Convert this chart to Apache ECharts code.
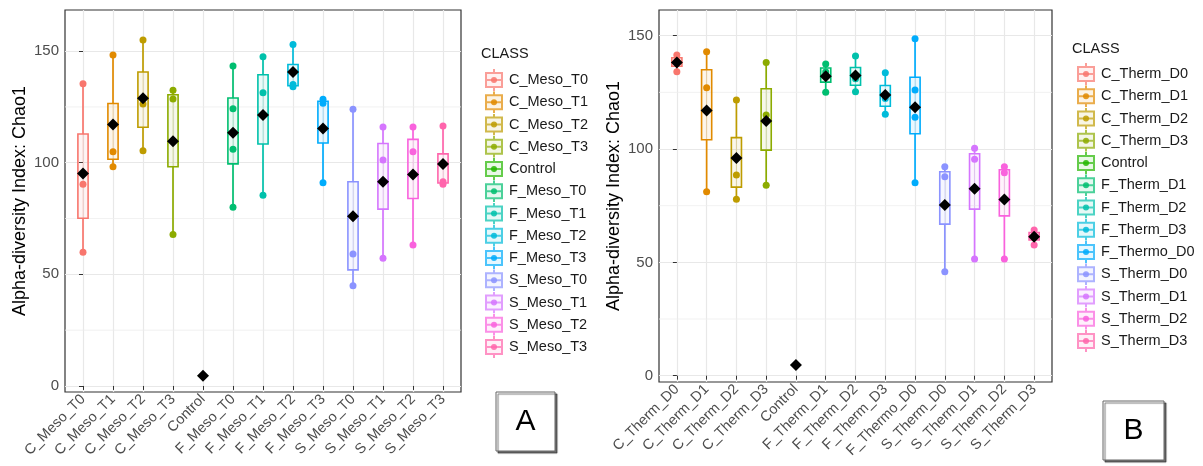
<!DOCTYPE html>
<html><head><meta charset="utf-8">
<script src="https://cdn.jsdelivr.net/npm/echarts@6/dist/echarts.min.js"></script>
<style>html,body{margin:0;padding:0;background:#fff}#c{width:1203px;height:466px}</style>
</head><body><div id="c"></div>
<script>
// ---------- data ----------
const catsA = ['C_Meso_T0','C_Meso_T1','C_Meso_T2','C_Meso_T3','Control','F_Meso_T0','F_Meso_T1','F_Meso_T2','F_Meso_T3','S_Meso_T0','S_Meso_T1','S_Meso_T2','S_Meso_T3'];
const pointsA = [
  [135.4, 90.3, 59.9],
  [148.2, 104.9, 98.2],
  [155.0, 126.3, 105.4],
  [132.4, 128.5, 67.9],
  [4.6],
  [143.3, 124.2, 106.0, 80.0],
  [147.5, 131.3, 85.4],
  [153.0, 135.0, 134.0],
  [128.4, 126.6, 91.0],
  [123.9, 59.1, 44.9],
  [116.0, 101.2, 57.2],
  [116.0, 104.9, 63.1],
  [116.4, 91.5, 90.3]
];
const catsB = ['C_Therm_D0','C_Therm_D1','C_Therm_D2','C_Therm_D3','Control','F_Therm_D1','F_Therm_D2','F_Therm_D3','F_Thermo_D0','S_Therm_D0','S_Therm_D1','S_Therm_D2','S_Therm_D3'];
const pointsB = [
  [141.5, 139.0, 134.1],
  [142.9, 127.0, 81.2],
  [121.6, 88.5, 77.9],
  [138.2, 115.0, 84.0],
  [4.7],
  [137.5, 134.0, 125.0],
  [141.0, 131.0, 125.3],
  [133.7, 122.3, 115.4],
  [148.7, 126.0, 114.0, 85.1],
  [92.2, 87.8, 45.9],
  [100.3, 95.5, 51.5],
  [92.2, 89.5, 51.5],
  [64.3, 62.0, 57.7]
];
const yTicks = [0, 50, 100, 150];
const yMinorTicks = [25, 75, 125];
const classColors = ['#F8766D','#E18A00','#BE9C00','#8CAB00','#24B700','#00BE70','#00C1AB','#00BBDA','#00ACFC','#8B93FF','#D575FE','#F962DD','#FF65AC'];

// ---------- helpers ----------
function quantile(s, p) { const h = (s.length - 1) * p, lo = Math.floor(h), hi = Math.ceil(h); return s[lo] + (h - lo) * (s[hi] - s[lo]); }
function boxStats(vals) {
  const s = vals.slice().sort((a, b) => a - b);
  const q1 = quantile(s, 0.25), med = quantile(s, 0.5), q3 = quantile(s, 0.75), iqr = q3 - q1;
  const inside = s.filter(v => v >= q1 - 1.5 * iqr && v <= q3 + 1.5 * iqr);
  return [inside[0], q1, med, q3, inside[inside.length - 1]];
}
const mean = a => a.reduce((x, y) => x + y, 0) / a.length;
function rgba(hex, a) { const n = parseInt(hex.slice(1), 16); return `rgba(${(n >> 16) & 255},${(n >> 8) & 255},${n & 255},${a})`; }
function keyIcon(c) {
  const svg = `<svg xmlns="http://www.w3.org/2000/svg" width="20" height="22" viewBox="0 0 20 22"><g opacity="0.7" stroke="${c}" stroke-width="2" fill="none"><line x1="10" y1="0" x2="10" y2="4"/><line x1="10" y1="18" x2="10" y2="22"/><rect x="2" y="4" width="16" height="14" fill="${c}" fill-opacity="0.15"/><line x1="2" y1="11" x2="18" y2="11"/></g><circle cx="10" cy="11" r="3" fill="${c}" opacity="0.85"/></svg>`;
  return 'image://data:image/svg+xml;charset=utf-8,' + encodeURIComponent(svg);
}
function renderBox(params, api) {
  const x = api.value(0);
  const lo = api.coord([x, api.value(1)]);
  const q1 = api.coord([x, api.value(2)]);
  const q3 = api.coord([x, api.value(4)]);
  const hi = api.coord([x, api.value(5)]);
  const hw = api.size([0.34, 0])[0] / 2;
  const color = api.visual('color');
  const cx = lo[0];
  const ls = { stroke: color, lineWidth: 1.7 };
  return { type: 'group', children: [
    { type: 'rect', shape: { x: cx - hw, y: q3[1], width: 2 * hw, height: q1[1] - q3[1] }, style: { fill: rgba(color, 0.08), stroke: color, lineWidth: 1.6 } },
    { type: 'line', shape: { x1: cx, y1: q3[1], x2: cx, y2: q1[1] }, style: { stroke: rgba(color, 0.25), lineWidth: 1 } },
    { type: 'line', shape: { x1: cx, y1: hi[1], x2: cx, y2: q3[1] }, style: ls },
    { type: 'line', shape: { x1: cx, y1: q1[1], x2: cx, y2: lo[1] }, style: ls },
    { type: 'line', shape: { x1: cx - 3, y1: hi[1], x2: cx + 3, y2: hi[1] }, style: ls },
    { type: 'line', shape: { x1: cx - 3, y1: lo[1], x2: cx + 3, y2: lo[1] }, style: ls }
  ]};
}
function renderMinor(params, api) {
  const cs = params.coordSys;
  const p = api.coord([0, api.value(0)]);
  return { type: 'line', shape: { x1: cs.x, y1: p[1], x2: cs.x + cs.width, y2: p[1] }, style: { stroke: '#eeeeee', lineWidth: 0.8 } };
}

const FONT = '"Liberation Sans", Arial, sans-serif';
const grids = [
  { left: 65, top: 10, width: 396, height: 382, show: true, borderColor: '#333', borderWidth: 1.2, backgroundColor: '#fff' },
  { left: 659, top: 10, width: 393, height: 372, show: true, borderColor: '#333', borderWidth: 1.2, backgroundColor: '#fff' }
];
const yRanges = [[-2.7, 168.4], [-2.78, 161.34]];
const xAxes = [], yAxes = [], series = [], legends = [];
[[catsA, pointsA], [catsB, pointsB]].forEach(([cats, pts], g) => {
  const idx = cats.map((c, i) => i);
  xAxes.push({
    gridIndex: g, type: 'value', min: -0.6, max: 12.6,
    axisLine: { show: false },
    axisTick: { show: true, customValues: idx, length: 4, lineStyle: { color: '#333', width: 1 } },
    axisLabel: { customValues: idx, formatter: v => cats[Math.round(v)], rotate: 45, fontSize: 14.5, color: '#4d4d4d', margin: 5, fontFamily: FONT },
    splitLine: { show: true, lineStyle: { color: '#e8e8e8', width: 1.2 } }
  });
  yAxes.push({
    gridIndex: g, type: 'value', min: yRanges[g][0], max: yRanges[g][1],
    axisLine: { show: false },
    axisTick: { show: true, customValues: yTicks, length: 4, lineStyle: { color: '#333', width: 1 } },
    axisLabel: { customValues: yTicks, fontSize: 15, color: '#4d4d4d', margin: 6, fontFamily: FONT },
    splitLine: { show: true, lineStyle: { color: '#e8e8e8', width: 1.2 } },
    name: 'Alpha-diversity Index: Chao1', nameLocation: 'middle', nameGap: 36,
    nameTextStyle: { fontSize: 18, color: '#000', fontFamily: FONT }
  });
  series.push({
    type: 'custom', name: 'minor' + g, xAxisIndex: g, yAxisIndex: g, z: 1, silent: true,
    data: yMinorTicks.map(v => [v]), encode: { y: 0 }, renderItem: renderMinor
  });
  cats.forEach((c, i) => {
    series.push({
      type: 'custom', name: c, xAxisIndex: g, yAxisIndex: g, z: 3, silent: true,
      itemStyle: { color: classColors[i] },
      data: [[i].concat(boxStats(pts[i]))],
      encode: { x: 0, y: [1, 2, 3, 4, 5] },
      renderItem: renderBox
    });
  });
  const pdata = [];
  pts.forEach((arr, i) => arr.forEach(v => pdata.push({ value: [i, v], itemStyle: { color: classColors[i], opacity: 1 } })));
  series.push({ type: 'scatter', name: 'pts' + g, xAxisIndex: g, yAxisIndex: g, z: 4, silent: true, symbolSize: 7, itemStyle: { opacity: 1 }, data: pdata });
  series.push({
    type: 'scatter', name: 'mean' + g, xAxisIndex: g, yAxisIndex: g, z: 5, silent: true,
    symbol: 'diamond', symbolSize: 12, itemStyle: { color: '#000', opacity: 1 },
    data: pts.map((arr, i) => [i, mean(arr)])
  });
  legends.push({
    data: cats.map((c, i) => ({ name: c, icon: keyIcon(classColors[i]) })),
    orient: 'vertical', left: g === 0 ? 479 : 1071, top: g === 0 ? 64 : 58,
    itemWidth: 20, itemHeight: 22, itemGap: 0.25, selectedMode: false,
    textStyle: { fontSize: 14.5, color: '#1a1a1a', fontFamily: FONT }
  });
});

const chart = echarts.init(document.getElementById('c'), null, { renderer: 'canvas' });
chart.setOption({
  animation: false,
  backgroundColor: '#fff',
  textStyle: { fontFamily: FONT },
  grid: grids, xAxis: xAxes, yAxis: yAxes, series: series, legend: legends,
  graphic: [
    { type: 'text', left: 481, top: 46, style: { text: 'CLASS', fontSize: 14.5, fill: '#1a1a1a', fontFamily: FONT } },
    { type: 'text', left: 1072, top: 41, style: { text: 'CLASS', fontSize: 14.5, fill: '#1a1a1a', fontFamily: FONT } },
    { type: 'rect', shape: { x: 496, y: 392, width: 59, height: 59 }, style: { fill: '#fff', stroke: '#666', lineWidth: 1, shadowColor: 'rgba(0,0,0,0.55)', shadowOffsetX: 2, shadowOffsetY: 2, shadowBlur: 1 } },
    { type: 'text', x: 525.5, y: 421.5, style: { text: 'A', fontSize: 30, fill: '#000', fontFamily: FONT, align: 'center', verticalAlign: 'middle' } },
    { type: 'rect', shape: { x: 1103, y: 401, width: 61, height: 59 }, style: { fill: '#fff', stroke: '#666', lineWidth: 1, shadowColor: 'rgba(0,0,0,0.55)', shadowOffsetX: 2, shadowOffsetY: 2, shadowBlur: 1 } },
    { type: 'text', x: 1133.5, y: 430.5, style: { text: 'B', fontSize: 30, fill: '#000', fontFamily: FONT, align: 'center', verticalAlign: 'middle' } }
  ]
});
</script>
</body></html>
